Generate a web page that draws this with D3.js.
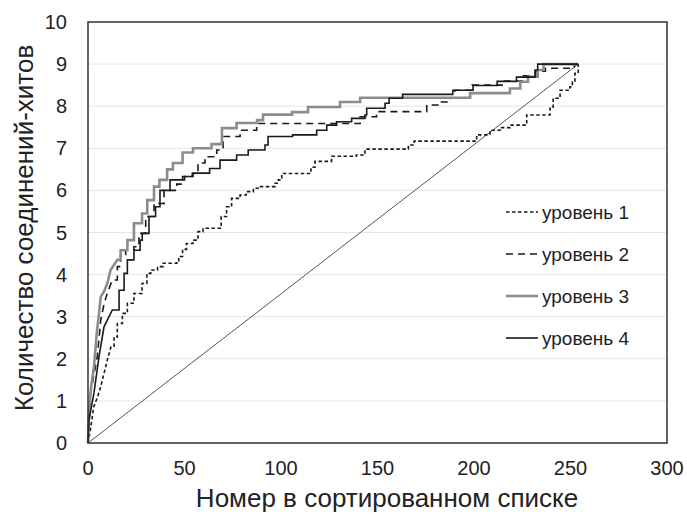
<!DOCTYPE html>
<html>
<head>
<meta charset="utf-8">
<script src="https://cdn.jsdelivr.net/npm/d3@7"></script>
<style>
  body { margin: 0; background: #fff; }
  text { font-family: "Liberation Sans", Arial, sans-serif; fill: #222; }
</style>
</head>
<body>
<div id="chart"></div>
<script>
// Series data: [rank in sorted list, number of hit compounds]
const level1 = [[0,0],[1,0.25],[2,0.55],[3,0.86],[5,1.1],[6.6,1.34],[8,1.6],[10,1.97],[12,2.3],[13.5,2.52],[15.2,2.84],[17.8,3.08],[20.4,3.32],[23.8,3.55],[28,3.79],[30.5,4.03],[32.5,4.11],[36,4.19],[39,4.27],[46,4.31],[47,4.43],[49,4.6],[51,4.74],[54.4,4.82],[57,5.02],[59.6,5.1],[69,5.38],[71.8,5.61],[74.4,5.81],[78.8,5.89],[82,5.97],[85.7,6.05],[89,6.09],[97,6.17],[98.6,6.25],[100.4,6.4],[115.5,6.55],[117.6,6.69],[126.2,6.81],[139,6.84],[143.5,6.98],[166,7.08],[169,7.17],[201.4,7.32],[208.3,7.43],[213.5,7.49],[218.7,7.55],[227.3,7.79],[239.4,7.95],[241,8.19],[244.6,8.38],[249.7,8.46],[251,8.58],[252.3,8.78],[254,9]];
const level2 = [[0,0],[0.5,0.4],[1.4,1.19],[3,1.6],[4.8,2.05],[6.6,2.92],[8.3,3.3],[10,3.56],[12.6,3.87],[15.2,4.19],[16.9,4.47],[19.5,4.58],[23.8,4.66],[26.4,4.98],[29.9,5.38],[34.2,5.69],[39.4,6.0],[46,6.15],[49,6.33],[54,6.4],[57,6.65],[60.6,6.8],[66.7,6.96],[70,7.28],[78.8,7.43],[87.4,7.59],[141,7.75],[149.5,7.87],[175.5,8.03],[182,8.1],[187.6,8.2],[190,8.38],[199,8.5],[215,8.6],[224.7,8.72],[232,8.83],[237,8.9],[252,9],[254,9]];
const level3 = [[0,0],[0.5,0.7],[1.5,1.3],[3.1,1.81],[4.5,2.6],[5.7,3.08],[6.6,3.47],[8.3,3.6],[10,3.79],[11.7,4.11],[15.2,4.35],[16.9,4.58],[20.4,4.82],[23.8,5.22],[28,5.45],[30.7,5.77],[34.2,6.09],[37,6.25],[41,6.5],[44,6.65],[49,6.9],[54.4,7.0],[64,7.1],[69.4,7.48],[77,7.6],[87.6,7.67],[90.7,7.8],[105.7,7.86],[114,7.98],[130.6,8.1],[141,8.2],[198,8.31],[218.6,8.42],[224,8.58],[228,8.7],[233,8.86],[236,9],[254,9]];
const level4 = [[0,0],[0.5,0.55],[3.1,1.19],[5.7,2.05],[8.3,2.76],[12.6,3.16],[16.1,3.63],[18.7,4.03],[20.4,4.35],[23.8,4.58],[27,4.82],[28.1,4.98],[31.6,5.38],[35,5.61],[37.3,6.0],[42.5,6.25],[50,6.33],[54.4,6.41],[63,6.52],[68.4,6.72],[77,6.84],[83,6.96],[91.7,7.08],[93.3,7.28],[106,7.32],[118.5,7.43],[123.7,7.55],[128.8,7.63],[136.6,7.71],[143.5,7.79],[144.4,7.95],[153.9,8.07],[156,8.19],[163,8.28],[189,8.38],[199.5,8.49],[212,8.59],[222,8.69],[231.6,8.86],[233,9],[254,9]];
const randomLine = [[0,0],[254,9]];

const seriesNames = ["уровень 1", "уровень 2", "уровень 3", "уровень 4"];
const xTicks = [0, 50, 100, 150, 200, 250, 300];
const yTicks = [0, 1, 2, 3, 4, 5, 6, 7, 8, 9, 10];

const width = 687;
const height = 517;
const margin = { top: 22, right: 20, bottom: 74, left: 88 };
const innerW = width - margin.left - margin.right;
const innerH = height - margin.top - margin.bottom;

const svg = d3.select("#chart")
  .append("svg")
  .attr("width", width)
  .attr("height", height);

const g = svg.append("g")
  .attr("transform", `translate(${margin.left},${margin.top})`);

const x = d3.scaleLinear().domain([0, 300]).range([0, innerW]);
const y = d3.scaleLinear().domain([0, 10]).range([innerH, 0]);

// gridlines
g.selectAll(".grid")
  .data(yTicks.slice(1, -1))
  .enter().append("line")
  .attr("x1", 0).attr("x2", innerW)
  .attr("y1", d => y(d)).attr("y2", d => y(d))
  .attr("stroke", "#e6e6e6")
  .attr("stroke-width", 1);

// tick labels
g.selectAll(".ylab")
  .data(yTicks)
  .enter().append("text")
  .attr("x", -21)
  .attr("y", d => y(d))
  .attr("dy", "0.35em")
  .attr("text-anchor", "end")
  .style("font-size", "20px")
  .text(d => d);

g.selectAll(".xlab")
  .data(xTicks)
  .enter().append("text")
  .attr("x", d => x(d))
  .attr("y", innerH + 25)
  .attr("dy", "0.35em")
  .attr("text-anchor", "middle")
  .style("font-size", "20px")
  .text(d => d);

// diagonal (random ranking)
const line = d3.line().x(d => x(d[0])).y(d => y(d[1]));
g.append("path")
  .attr("d", line(randomLine))
  .attr("fill", "none")
  .attr("stroke", "#555")
  .attr("stroke-width", 1);

const styles = [
  { color: "#1a1a1a", w: 1.6, dash: "3.5,2.5" },
  { color: "#1a1a1a", w: 1.6, dash: "7,5" },
  { color: "#8c8c8c", w: 2.6, dash: null },
  { color: "#1a1a1a", w: 1.6, dash: null }
];

// steep start is drawn as a plain polyline, the rest as steps
function toSteps(s) {
  const out = [s[0]];
  for (let i = 1; i < s.length; i++) {
    const prev = s[i - 1];
    if (prev[0] >= 12) out.push([s[i][0], prev[1]]);
    out.push(s[i]);
  }
  return out;
}

[level1, level2, level3, level4].forEach((s, i) => {
  g.append("path")
    .attr("d", line(toSteps(s)))
    .attr("fill", "none")
    .attr("stroke", styles[i].color)
    .attr("stroke-width", styles[i].w)
    .attr("stroke-dasharray", styles[i].dash);
});

// frame
g.append("rect")
  .attr("width", innerW)
  .attr("height", innerH)
  .attr("fill", "none")
  .attr("stroke", "#333")
  .attr("stroke-width", 1.5);

// legend
const legend = g.selectAll(".legend")
  .data(seriesNames)
  .enter().append("g")
  .attr("transform", (d, i) => `translate(418,${190 + i * 42})`);

legend.append("line")
  .attr("x1", 0).attr("x2", 32)
  .attr("stroke", (d, i) => styles[i].color)
  .attr("stroke-width", (d, i) => styles[i].w)
  .attr("stroke-dasharray", (d, i) => styles[i].dash);

legend.append("text")
  .attr("x", 36)
  .attr("dy", "0.35em")
  .style("font-size", "19px")
  .text(d => d);

// axis titles
svg.append("text")
  .attr("x", 387)
  .attr("y", 498)
  .attr("dy", "0.35em")
  .attr("text-anchor", "middle")
  .style("font-size", "26px")
  .text("Номер в сортированном списке");

svg.append("text")
  .attr("transform", "translate(24,228) rotate(-90)")
  .attr("dy", "0.35em")
  .attr("text-anchor", "middle")
  .style("font-size", "26px")
  .text("Количество соединений-хитов");
</script>
</body>
</html>
